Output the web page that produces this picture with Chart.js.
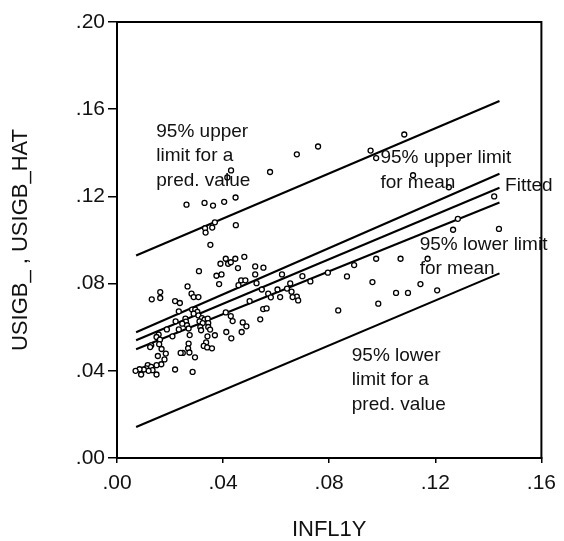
<!DOCTYPE html>
<html>
<head>
<meta charset="utf-8">
<script src="https://cdn.jsdelivr.net/npm/chart.js@4.4.0/dist/chart.umd.min.js"></script>
<style>
  html, body { margin: 0; padding: 0; background: #fff; }
</style>
</head>
<body>
<canvas id="fitChart" width="564" height="541"></canvas>
<script>
// observations: INFL1Y (x) vs USIGB_ (y)
const inflX = [
    0.0262, 0.0330, 0.0362, 0.0404, 0.0447, 0.0430, 0.0416, 0.0577, 0.0678, 0.0758,
    0.0369, 0.0332, 0.0359, 0.0334, 0.0448, 0.0352, 0.1083, 0.0956, 0.0977, 0.1116,
    0.1251, 0.1422, 0.1285, 0.1267, 0.1440, 0.0977, 0.1069, 0.1171, 0.0894, 0.0795,
    0.0867, 0.0963, 0.1144, 0.1052, 0.1097, 0.1207, 0.0985, 0.0834,
    0.0410, 0.0446, 0.0480, 0.0390, 0.0419, 0.0429, 0.0456, 0.0521, 0.0552, 0.0309,
    0.0375, 0.0394, 0.0521, 0.0468, 0.0484, 0.0458, 0.0385, 0.0526, 0.0622, 0.0699,
    0.0729, 0.0266, 0.0546, 0.0653, 0.0641, 0.0605, 0.0658, 0.0678, 0.0683, 0.0662,
    0.0615, 0.0570, 0.0580, 0.0500, 0.0163, 0.0163, 0.0131, 0.0281, 0.0289, 0.0307,
    0.0219, 0.0237, 0.0233, 0.0410, 0.0429, 0.0436, 0.0551, 0.0564, 0.0540, 0.0474,
    0.0488, 0.0283, 0.0295, 0.0303, 0.0289, 0.0307, 0.0320, 0.0330, 0.0342, 0.0311,
    0.0323, 0.0344, 0.0258, 0.0260, 0.0221, 0.0246, 0.0264, 0.0270, 0.0233, 0.0274,
    0.0344, 0.0351, 0.0314, 0.0317, 0.0188, 0.0209, 0.0157, 0.0149, 0.0162, 0.0129,
    0.0125, 0.0412, 0.0431, 0.0470, 0.0369, 0.0341, 0.0270, 0.0268, 0.0248, 0.0273,
    0.0336, 0.0327, 0.0340, 0.0358, 0.0159, 0.0168, 0.0184, 0.0154, 0.0179, 0.0294,
    0.0167, 0.0149, 0.0116, 0.0110, 0.0129, 0.0134, 0.0119, 0.0101, 0.0085, 0.0070,
    0.0091, 0.0149, 0.0219, 0.0285, 0.0240
];
const usigbY = [
    0.1162, 0.1170, 0.1158, 0.1175, 0.1195, 0.1319, 0.1287, 0.1312, 0.1393, 0.1429,
    0.1081, 0.1054, 0.1057, 0.1034, 0.1068, 0.0978, 0.1484, 0.1410, 0.1376, 0.1297,
    0.1242, 0.1200, 0.1097, 0.1047, 0.1051, 0.0914, 0.0914, 0.0914, 0.0885, 0.0850,
    0.0833, 0.0807, 0.0798, 0.0757, 0.0757, 0.0769, 0.0708, 0.0677,
    0.0914, 0.0914, 0.0923, 0.0891, 0.0891, 0.0898, 0.0871, 0.0879, 0.0873, 0.0857,
    0.0836, 0.0842, 0.0842, 0.0815, 0.0815, 0.0793, 0.0798, 0.0802, 0.0842, 0.0834,
    0.0810, 0.0787, 0.0773, 0.0801, 0.0777, 0.0773, 0.0763, 0.0740, 0.0723, 0.0738,
    0.0738, 0.0754, 0.0737, 0.0720, 0.0761, 0.0734, 0.0728, 0.0754, 0.0738, 0.0738,
    0.0720, 0.0711, 0.0673, 0.0668, 0.0651, 0.0628, 0.0683, 0.0686, 0.0636, 0.0622,
    0.0604, 0.0681, 0.0681, 0.0670, 0.0662, 0.0654, 0.0642, 0.0635, 0.0639, 0.0627,
    0.0619, 0.0619, 0.0639, 0.0626, 0.0627, 0.0616, 0.0609, 0.0594, 0.0590, 0.0564,
    0.0601, 0.0589, 0.0601, 0.0586, 0.0590, 0.0558, 0.0566, 0.0555, 0.0543, 0.0517,
    0.0509, 0.0578, 0.0549, 0.0578, 0.0563, 0.0558, 0.0525, 0.0503, 0.0482, 0.0484,
    0.0530, 0.0514, 0.0507, 0.0503, 0.0522, 0.0500, 0.0479, 0.0468, 0.0452, 0.0462,
    0.0430, 0.0426, 0.0426, 0.0411, 0.0418, 0.0403, 0.0400, 0.0406, 0.0407, 0.0400,
    0.0383, 0.0383, 0.0406, 0.0395, 0.0482
];

// fitted line and 95% bands, drawn between min and max INFL1Y
const lineX = [0.0072, 0.1442];
const upperPred = [0.0929, 0.1638];
const upperMean = [0.0577, 0.1304];
const fitted = [0.0540, 0.1240];
const lowerMean = [0.0499, 0.1172];
const lowerPred = [0.0142, 0.0847];

// ticks
const xTickVals = [0, 0.04, 0.08, 0.12, 0.16];
const xTickLabels = ['.00', '.04', '.08', '.12', '.16'];
const yTickVals = [0, 0.04, 0.08, 0.12, 0.16, 0.20];
const yTickLabels = ['.00', '.04', '.08', '.12', '.16', '.20'];

// text labels inside the plot (anchor = left / first baseline, data units)
const notes = [
    { lines: ['95% upper', 'limit for a', 'pred. value'], x: 0.0148, y: 0.1474 },
    { lines: ['95% upper limit', 'for mean'], x: 0.0993, y: 0.1351 },
    { lines: ['Fitted'], x: 0.1463, y: 0.1223 },
    { lines: ['95% lower limit', 'for mean'], x: 0.1141, y: 0.0955 },
    { lines: ['95% lower', 'limit for a', 'pred. value'], x: 0.0885, y: 0.0445 }
];

const FONT = '"Liberation Sans", Arial, sans-serif';

function toPoints(xs, ys) {
    return xs.map(function(v, i) { return { x: v, y: ys[i] }; });
}

function lineSet(ys) {
    return {
        type: 'line',
        data: toPoints(lineX, ys),
        borderColor: '#000',
        borderWidth: 2.1,
        pointRadius: 0,
        fill: false,
        tension: 0
    };
}

const frameAndNotes = {
    id: 'frameAndNotes',
    afterDatasetsDraw(chart) {
        const ctx = chart.ctx;
        const a = chart.chartArea;
        const xs = chart.scales.x;
        const ys = chart.scales.y;
        ctx.save();
        ctx.fillStyle = '#111';
        ctx.font = '19px ' + FONT;
        ctx.textBaseline = 'alphabetic';
        ctx.textAlign = 'left';
        notes.forEach(function(n) {
            const px = xs.getPixelForValue(n.x);
            const py = ys.getPixelForValue(n.y);
            n.lines.forEach(function(t, i) {
                ctx.fillText(t, px, py + i * 24.5);
            });
        });
        ctx.strokeStyle = '#000';
        ctx.lineWidth = 2;
        ctx.strokeRect(a.left, a.top, a.right - a.left, a.bottom - a.top);
        ctx.restore();
    }
};

new Chart(document.getElementById('fitChart'), {
    type: 'scatter',
    data: {
        datasets: [
            {
                data: toPoints(inflX, usigbY),
                pointStyle: 'circle',
                pointRadius: 2.5,
                pointBorderWidth: 1.3,
                pointBorderColor: '#000',
                pointBackgroundColor: '#fff',
                showLine: false
            },
            lineSet(upperPred),
            lineSet(upperMean),
            lineSet(fitted),
            lineSet(lowerMean),
            lineSet(lowerPred)
        ]
    },
    options: {
        responsive: false,
        animation: false,
        layout: { padding: { top: 22, right: 15, left: 0, bottom: 0 } },
        plugins: {
            legend: { display: false },
            tooltip: { enabled: false }
        },
        scales: {
            x: {
                type: 'linear',
                min: 0,
                max: 0.16,
                afterBuildTicks: function(scale) {
                    scale.ticks = xTickVals.map(function(v) { return { value: v }; });
                },
                afterFit: function(scale) { scale.height = 83; },
                grid: { drawOnChartArea: false, drawTicks: true, tickLength: 5, color: '#000', lineWidth: 1.5 },
                border: { display: true, color: '#000', width: 2 },
                ticks: {
                    color: '#111',
                    padding: 8,
                    maxRotation: 0,
                    font: { family: FONT, size: 21 },
                    callback: function(v, i) { return xTickLabels[i]; }
                },
                title: {
                    display: true,
                    text: 'INFL1Y',
                    color: '#111',
                    font: { family: FONT, size: 22, lineHeight: 1 },
                    padding: { top: 0, bottom: 0 }
                }
            },
            y: {
                type: 'linear',
                min: 0,
                max: 0.2,
                afterBuildTicks: function(scale) {
                    scale.ticks = yTickVals.map(function(v) { return { value: v }; });
                },
                afterFit: function(scale) { scale.width = 117; },
                grid: { drawOnChartArea: false, drawTicks: true, tickLength: 9, color: '#000', lineWidth: 1.5 },
                border: { display: true, color: '#000', width: 2 },
                ticks: {
                    color: '#111',
                    padding: 3,
                    font: { family: FONT, size: 21 },
                    callback: function(v, i) { return yTickLabels[i]; }
                },
                title: {
                    display: true,
                    text: 'USIGB_ , USIGB_HAT',
                    color: '#111',
                    font: { family: FONT, size: 22, lineHeight: 1.2 },
                    padding: { top: 8, bottom: 0 }
                }
            }
        }
    },
    plugins: [frameAndNotes]
});
</script>
</body>
</html>
